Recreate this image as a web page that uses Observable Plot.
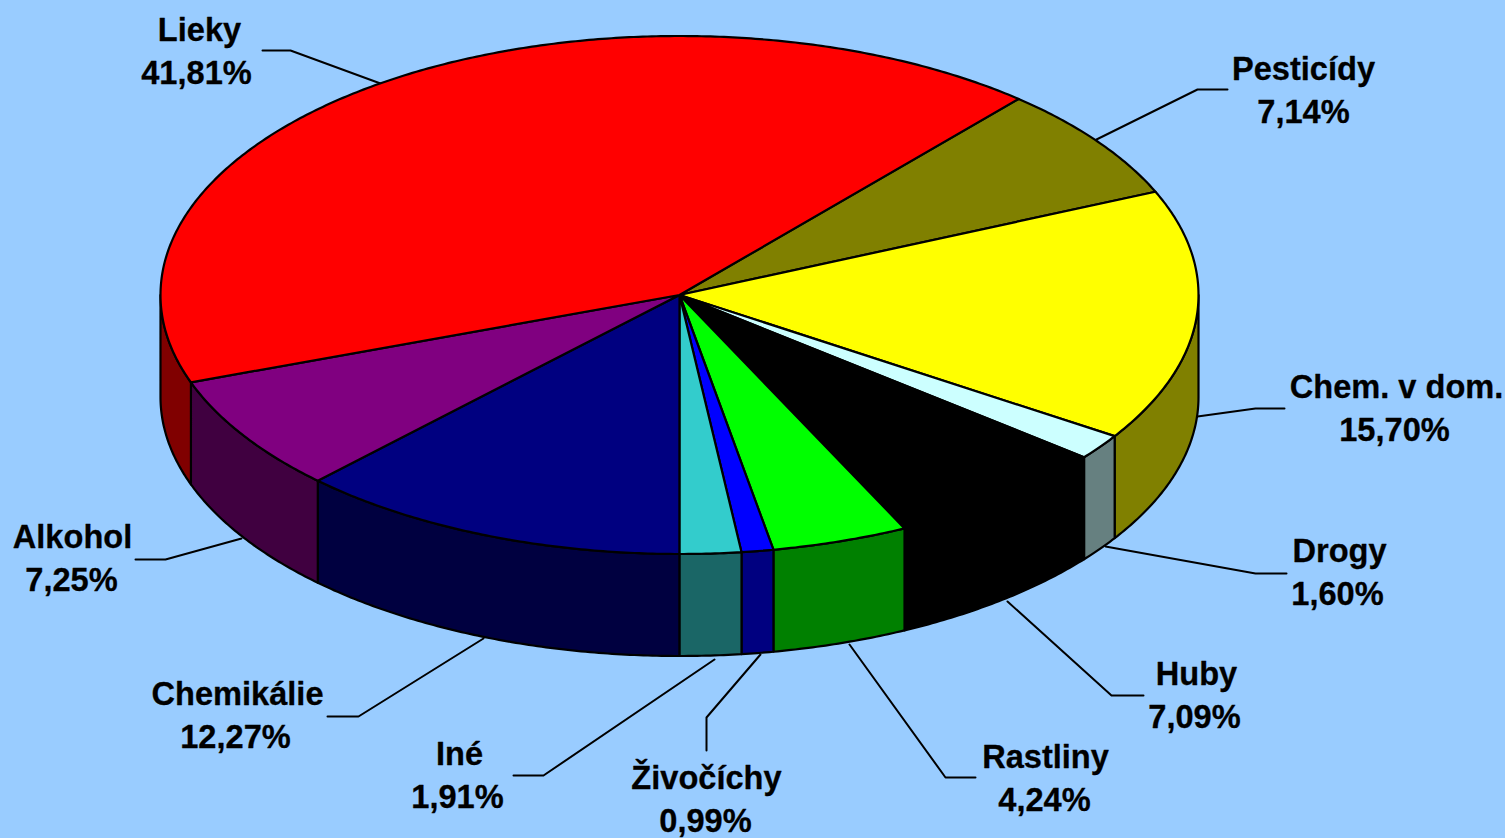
<!DOCTYPE html>
<html><head><meta charset="utf-8">
<script src="https://cdn.jsdelivr.net/npm/d3@7"></script>
<script src="https://cdn.jsdelivr.net/npm/@observablehq/plot@0.6"></script>
<style>html,body{margin:0;padding:0;background:#99CCFF;overflow:hidden}svg{display:block}</style>
</head><body><div id="chart"></div>
<script>
// Data, in drawing order (clockwise from the Lieky/Pesticídy boundary)
const names = ["Pesticídy","Chem. v dom.","Drogy","Huby","Rastliny","Živočíchy","Iné","Chemikálie","Alkohol","Lieky"];
const shares = [7.14,15.70,1.60,7.09,4.24,0.99,1.91,12.27,7.25,41.81];
// Styles
const topColors = ["#808000","#FFFF00","#CCFFFF","#000000","#00FF00","#0000FF","#33CCCC","#000080","#800080","#FF0000"];
const wallColors = ["#404000","#808000","#668080","#000000","#008000","#000080","#1A6666","#000040","#400040","#800000"];
// Layout of the label block: centre x and baseline of the two lines
const nameX = [1303,1396,1339,1196,1045,706,459,237,72,199];
const nameY = [79,397,561,684,767,788,764,704,547,40];
const shareX = [1303,1394,1337,1194,1044,705,457,235,71,196];
const shareY = [122,440,604,727,810,831,807,747,590,83];
// Leader polylines: from the pie rim, elbow, end beside the label
const leaderA = [[1096,139],[1197,416],[1105,546],[1007,601],[849,644],[760,654],[714,659],[483,638],[241,538],[380,83]];
const leaderB = [[1197,89],[1255,408],[1255,573],[1111,695],[945,777],[706,717],[543,775],[358,716],[165,559],[290,50]];
const leaderC = [[1227,89],[1284,408],[1286,573],[1143,695],[975,777],[706,750],[513,775],[327,716],[135,559],[262,50]];
// Pie geometry
const cx = 679, cy = 294.5, rx = 519, ry = 259, depth = 102, startDeg = -49.2;

const pt = (deg, dy = 0) => {
  const t = deg * Math.PI / 180;
  return [cx + rx * Math.cos(t), cy + ry * Math.sin(t) + dy];
};
const arc = (a, b, dy = 0) => {
  const n = Math.max(2, Math.ceil(Math.abs(b - a) / 0.5));
  return d3.range(n + 1).map(i => pt(a + (b - a) * i / n, dy));
};
let acc = startDeg;
const wedges = names.map((name, i) => {
  const a = acc, b = acc + shares[i] * 3.6; acc = b;
  return {name, a, b, top: topColors[i], wall: wallColors[i]};
});

const topRows = [], wallRows = [];
wedges.forEach(w => {
  const ring = [[cx, cy], ...arc(w.a, w.b), [cx, cy]];
  ring.forEach(([x, y]) => topRows.push({x, y, z: w.name, fill: w.top}));
  for (const k of [-360, 0, 360]) {
    const lo = Math.max(w.a, k), hi = Math.min(w.b, k + 180);
    if (hi > lo) {
      const poly = [...arc(lo, hi), ...arc(hi, lo, depth)];
      poly.push(poly[0]);
      poly.forEach(([x, y]) => wallRows.push({x, y, z: w.name + k, fill: w.wall}));
    }
  }
});
const leaderRows = names.flatMap((name, i) =>
  [leaderA[i], leaderB[i], leaderC[i]].map(([x, y]) => ({x, y, name})));
const labelRows = names.map((name, i) => ({name, x: nameX[i], y: nameY[i]}));
const pctRows = names.map((name, i) => ({
  text: shares[i].toFixed(2).replace(".", ",") + "%", x: shareX[i], y: shareY[i]}));

const textOpts = {x: "x", y: "y", fontFamily: "Liberation Sans", fontWeight: "bold",
  fontSize: 32.6, fill: "#000", stroke: "#000", strokeWidth: 0.3, lineAnchor: "bottom", textAnchor: "middle"};
const polyOpts = {x: "x", y: "y", z: "z", fill: "fill", stroke: "#000", strokeWidth: 2.2,
  strokeLinejoin: "round", curve: "linear"};

const chart = Plot.plot({
  width: 1505, height: 838, margin: 0,
  style: {background: "#99CCFF"},
  x: {domain: [0, 1505], range: [0, 1505], axis: null},
  y: {domain: [0, 838], range: [0, 838], axis: null},
  color: {type: "identity"},
  marks: [
    Plot.line(leaderRows, {x: "x", y: "y", z: "name", stroke: "#000", strokeWidth: 2, curve: "linear"}),
    Plot.line(wallRows, polyOpts),
    Plot.line(topRows, polyOpts),
    Plot.text(labelRows, {...textOpts, text: "name"}),
    Plot.text(pctRows, {...textOpts, text: "text"})
  ]
});
document.getElementById("chart").append(chart);
</script></body></html>
